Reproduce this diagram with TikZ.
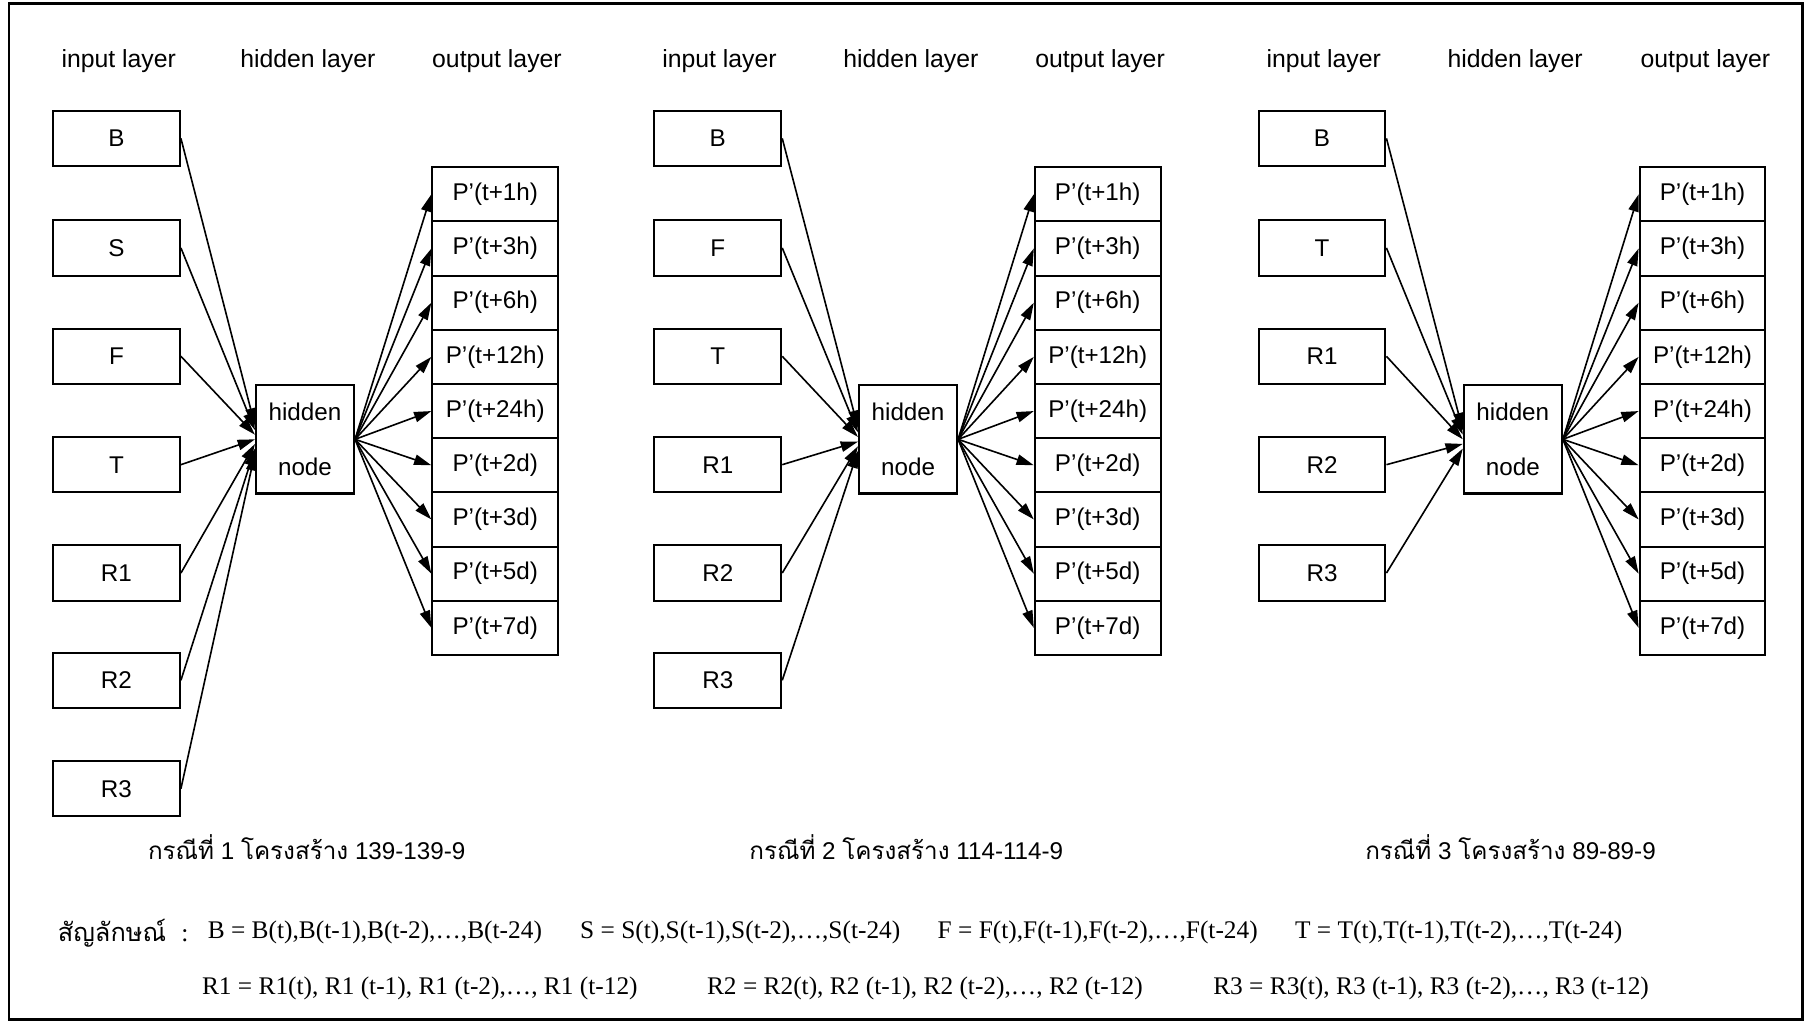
\documentclass[tikz,border=0pt]{standalone}
\usepackage{fontspec}
\setmainfont{Liberation Sans}
\newfontfamily\serifont{Liberation Serif}
\newfontfamily\thaifont[Script=Thai]{Loma}
\usetikzlibrary{arrows.meta}
\begin{document}
\begin{tikzpicture}[x=1pt,y=-1pt,
  box/.style={draw, line width=1.8pt, inner sep=0pt, font=\fontsize{21}{25}\selectfont},
  inbox/.style={box, minimum width=110pt, minimum height=48pt},
  outbox/.style={box, minimum width=109pt, minimum height=47pt},
  hidbox/.style={box, minimum width=85pt, minimum height=94pt, align=center, font=\fontsize{21}{47}\selectfont},
  conn/.style={line width=1.4pt, -{Triangle[length=15pt,width=9pt]}},
  hdr/.style={font=\fontsize{21.5}{25}\selectfont},
  capt/.style={font=\fontsize{21}{25}\selectfont},
  leg/.style={anchor=west, inner sep=0pt, font=\serifont\fontsize{22}{26}\selectfont},
  frame/.style={draw, line width=2.2pt}
]
\useasboundingbox (0,0) rectangle (1568,888);
\draw[frame] (8,3) rectangle (1563,884);

% ---------- Panel 1 ----------
\node[hdr] (h1a) at (103,53) {input layer};
\node[hdr] (h1b) at (267,53) {hidden layer};
\node[hdr] (h1c) at (431,53) {output layer};
\node[hidbox] (hA) at (264.5,381) {hidden\\node};
\foreach \n/\y [count=\i] in {B/120,S/215,F/309,T/403,R1/497,R2/590,R3/684}
  \node[inbox] (a\i) at (101,\y) {\n};
\foreach \t [count=\i] in {1h,3h,6h,12h,24h,2d,3d,5d,7d}
  \node[outbox] (ao\i) at (429.5,{168.5+47*(\i-1)}) {P’(t+\t)};
\foreach \i in {1,...,7}
  \draw[conn] (a\i.east) -- ([yshift={(4-\i)*4pt}]hA.west);
\foreach \i in {1,...,9}
  \draw[conn] (hA.east) -- (ao\i.west);
\node[capt] (c1) at (266,735) {{\thaifont กรณีที่} 1 {\thaifont โครงสร้าง} 139-139-9};

% ---------- Panel 2 ----------
\node[hdr] (h2a) at (624,53) {input layer};
\node[hdr] (h2b) at (790,53) {hidden layer};
\node[hdr] (h2c) at (954,53) {output layer};
\node[hidbox] (hB) at (787.5,381) {hidden\\node};
\foreach \n/\y [count=\i] in {B/120,F/215,T/309,R1/403,R2/497,R3/590}
  \node[inbox] (b\i) at (622.5,\y) {\n};
\foreach \t [count=\i] in {1h,3h,6h,12h,24h,2d,3d,5d,7d}
  \node[outbox] (bo\i) at (952,{168.5+47*(\i-1)}) {P’(t+\t)};
\foreach \i in {1,...,6}
  \draw[conn] (b\i.east) -- ([yshift={(3.5-\i)*4pt}]hB.west);
\foreach \i in {1,...,9}
  \draw[conn] (hB.east) -- (bo\i.west);
\node[capt] (c2) at (786,735) {{\thaifont กรณีที่} 2 {\thaifont โครงสร้าง} 114-114-9};

% ---------- Panel 3 ----------
\node[hdr] (h3a) at (1148,53) {input layer};
\node[hdr] (h3b) at (1314,53) {hidden layer};
\node[hdr] (h3c) at (1479,53) {output layer};
\node[hidbox] (hC) at (1312,381) {hidden\\node};
\foreach \n/\y [count=\i] in {B/120,T/215,R1/309,R2/403,R3/497}
  \node[inbox] (c\i) at (1146.5,\y) {\n};
\foreach \t [count=\i] in {1h,3h,6h,12h,24h,2d,3d,5d,7d}
  \node[outbox] (co\i) at (1476.5,{168.5+47*(\i-1)}) {P’(t+\t)};
\foreach \i in {1,...,5}
  \draw[conn] (c\i.east) -- ([yshift={(3-\i)*4pt}]hC.west);
\foreach \i in {1,...,9}
  \draw[conn] (hC.east) -- (co\i.west);
\node[capt] (c3) at (1310,735) {{\thaifont กรณีที่} 3 {\thaifont โครงสร้าง} 89-89-9};

% ---------- Legend ----------
\node[leg] (l0) at (50,809) {{\thaifont สัญลักษณ์}\hspace{0.6em}:};
\node[leg] (l1) at (180,809) {B = B(t),B(t-1),B(t-2),…,B(t-24)};
\node[leg] (l2) at (503,809) {S = S(t),S(t-1),S(t-2),…,S(t-24)};
\node[leg] (l3) at (813,809) {F = F(t),F(t-1),F(t-2),…,F(t-24)};
\node[leg] (l4) at (1123,809) {T = T(t),T(t-1),T(t-2),…,T(t-24)};
\node[leg] (l5) at (175,857) {R1 = R1(t), R1 (t-1), R1 (t-2),…, R1 (t-12)};
\node[leg] (l6) at (613,857) {R2 = R2(t), R2 (t-1), R2 (t-2),…, R2 (t-12)};
\node[leg] (l7) at (1052,857) {R3 = R3(t), R3 (t-1), R3 (t-2),…, R3 (t-12)};
\end{tikzpicture}
\end{document}
